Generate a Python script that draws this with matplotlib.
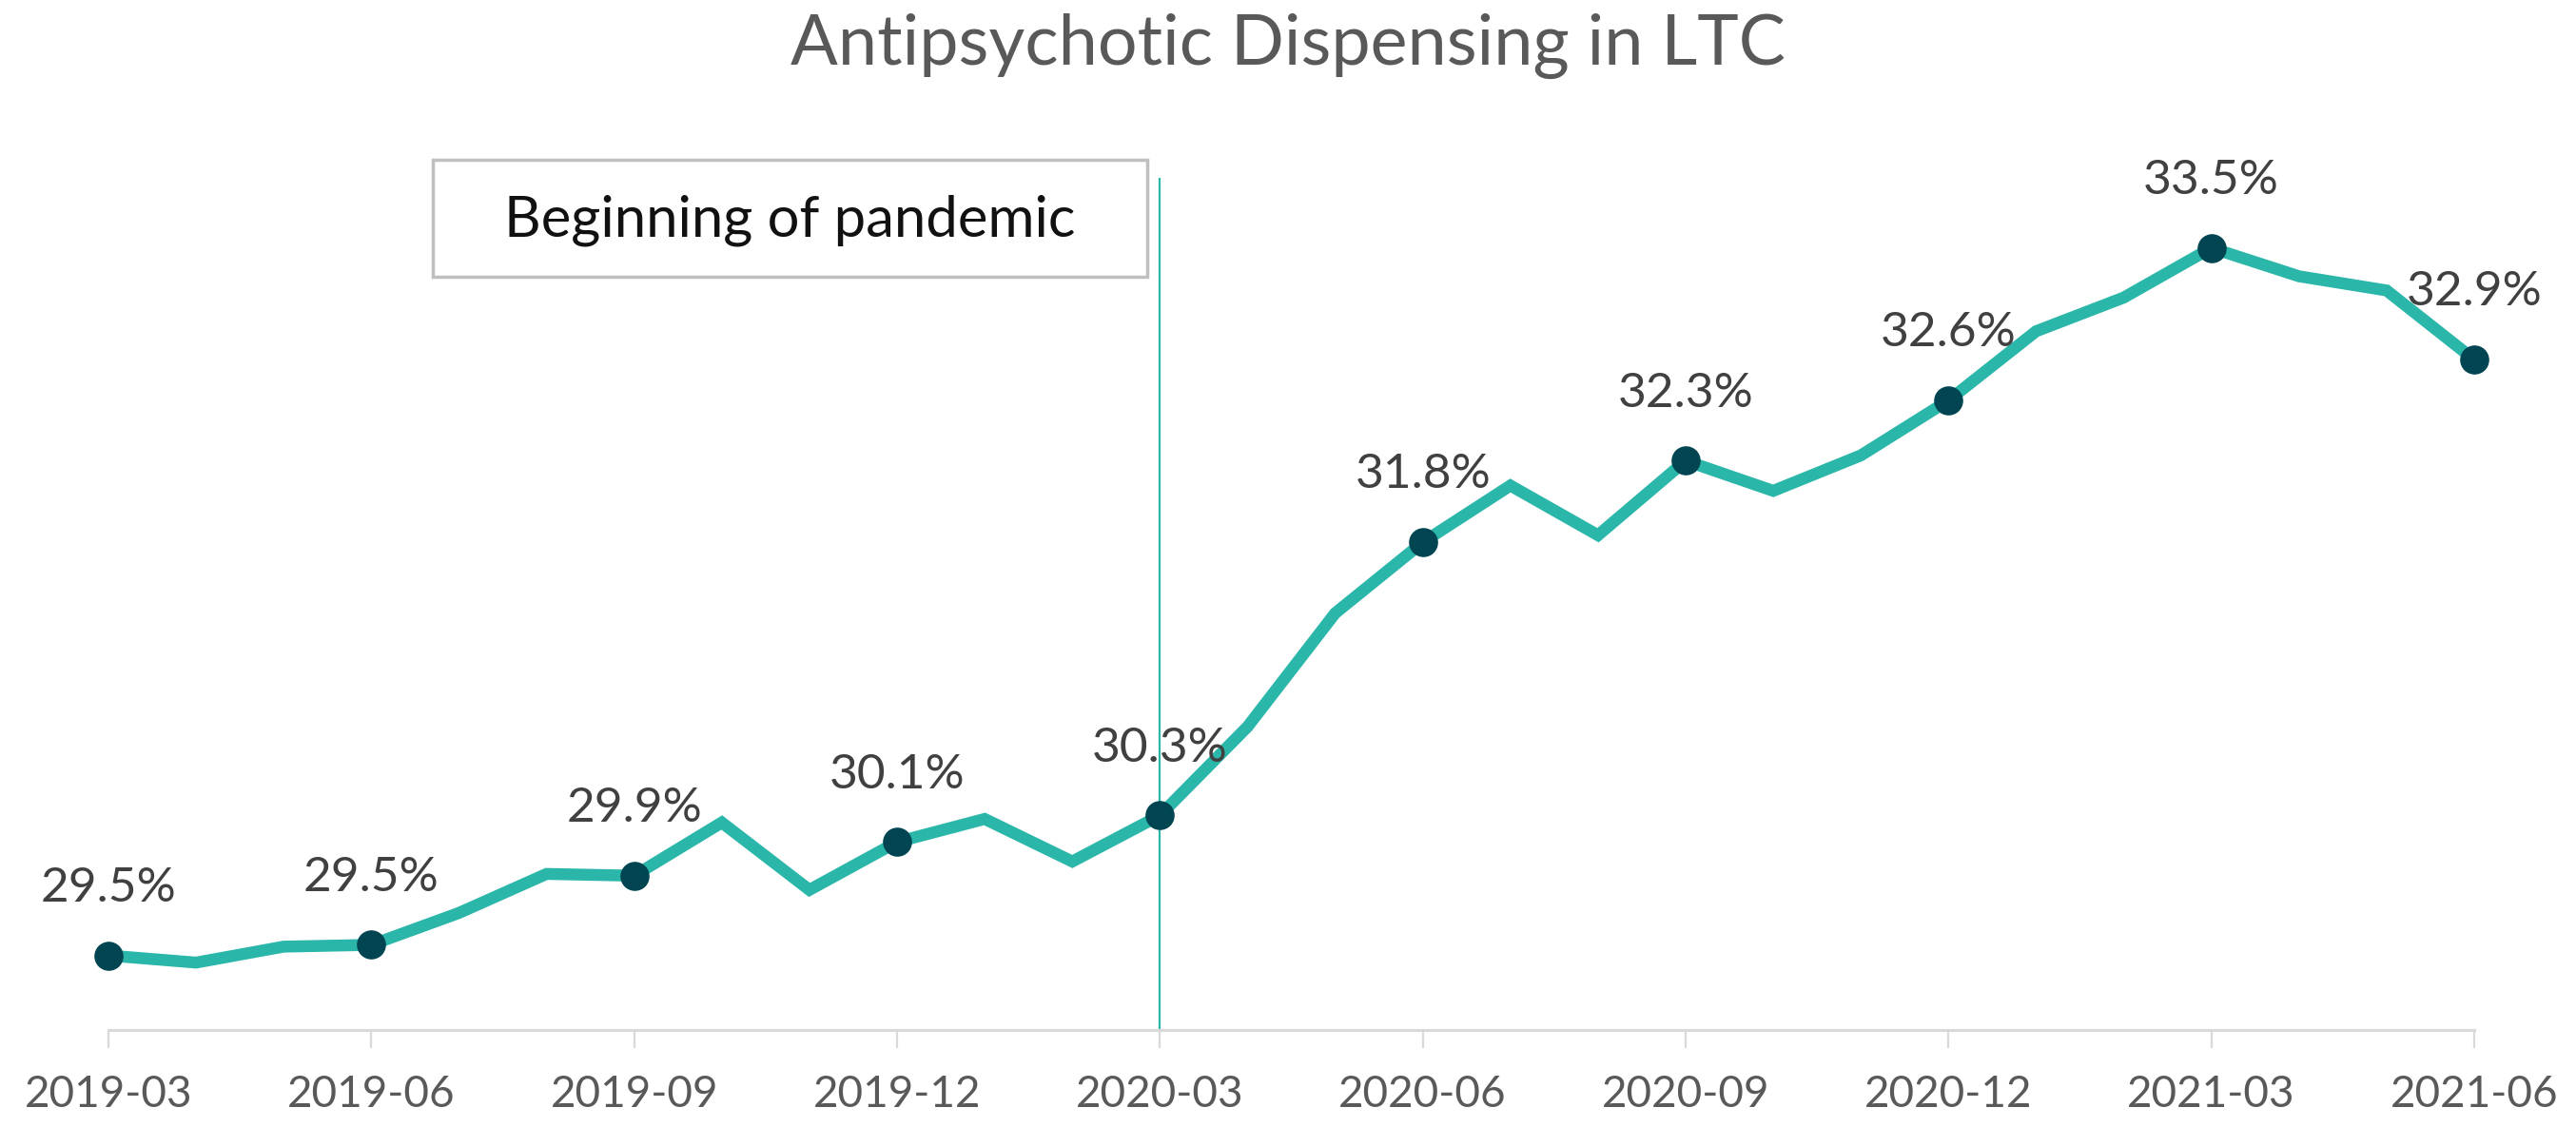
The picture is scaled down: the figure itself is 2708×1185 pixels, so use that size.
import matplotlib
matplotlib.use("Agg")
import matplotlib.pyplot as plt
from matplotlib.patches import Rectangle

months = ["2019-03", "2019-04", "2019-05", "2019-06", "2019-07", "2019-08", "2019-09",
          "2019-10", "2019-11", "2019-12", "2020-01", "2020-02", "2020-03", "2020-04",
          "2020-05", "2020-06", "2020-07", "2020-08", "2020-09", "2020-10", "2020-11",
          "2020-12", "2021-01", "2021-02", "2021-03", "2021-04", "2021-05", "2021-06"]
values = [29.50, 29.46, 29.55, 29.56, 29.74, 29.96, 29.95, 30.25, 29.87, 30.14,
          30.27, 30.03, 30.29, 30.79, 31.43, 31.83, 32.15, 31.87, 32.29, 32.12,
          32.32, 32.63, 33.02, 33.21, 33.49, 33.33, 33.25, 32.86]
tick_labels = ["2019-03", "2019-06", "2019-09", "2019-12", "2020-03",
               "2020-06", "2020-09", "2020-12", "2021-03", "2021-06"]
marker_labels = ["29.5%", "29.5%", "29.9%", "30.1%", "30.3%",
                 "31.8%", "32.3%", "32.6%", "33.5%", "32.9%"]
pandemic_month = "2020-03"
title = "Antipsychotic Dispensing in LTC"
annotation = "Beginning of pandemic"

FONT = ["Lato", "DejaVu Sans"]
plt.rcParams['font.family'] = FONT

LINE_C = "#2AB7AA"
MARK_C = "#004551"

fig = plt.figure(figsize=(27.08, 11.85), dpi=100)
ax = fig.add_axes([114/2708, 1 - 1083/1185, (2601-114)/2708, (1083-187)/1185])

x = list(range(len(months)))
ax.plot(x, values, color=LINE_C, lw=9, solid_joinstyle="miter", zorder=3, clip_on=False)

qidx = [months.index(m) for m in tick_labels]
ax.plot(qidx, [values[i] for i in qidx], ls="none", marker="o", ms=21,
        color=MARK_C, zorder=4, clip_on=False)
for i, lab in zip(qidx, marker_labels):
    ax.annotate(lab, (i, values[i]), xytext=(0, 51), textcoords="offset points",
                ha="center", va="center", fontsize=37, color="#404040", zorder=5,
                annotation_clip=False)

pi = months.index(pandemic_month)
ax.axvline(pi, color=LINE_C, lw=1.6, zorder=2)

ax.set_xlim(0, len(months) - 1)
ax.set_ylim(29.08, 33.885)
ax.set_xticks(qidx)
ax.set_xticklabels(tick_labels, fontsize=33, color="#595959")
ax.set_yticks([])
for s in ["top", "right", "left"]:
    ax.spines[s].set_visible(False)
ax.spines["bottom"].set_color("#D9D9D9")
ax.spines["bottom"].set_linewidth(2.2)
ax.tick_params(axis="x", length=14, width=1.6, color="#D9D9D9", pad=20)
for lab in ax.get_xticklabels():
    lab.set_clip_on(False)

fig.text(0.5, 1 - 48/1185, title, ha="center", va="center", fontsize=53,
         color="#595959")

box_x0, box_x1, box_y0, box_y1 = 455/2708, 1206/2708, 1 - 291/1185, 1 - 168/1185
fig.add_artist(Rectangle((box_x0, box_y0), box_x1 - box_x0, box_y1 - box_y0,
                         transform=fig.transFigure, facecolor="white",
                         edgecolor="#BFBFBF", lw=2.5, zorder=6))
fig.text((box_x0 + box_x1) / 2, 1 - 232/1185, annotation, ha="center", va="center",
         fontsize=43, color="#111111", zorder=7)

fig.savefig("out.png", dpi=100, facecolor="white")
